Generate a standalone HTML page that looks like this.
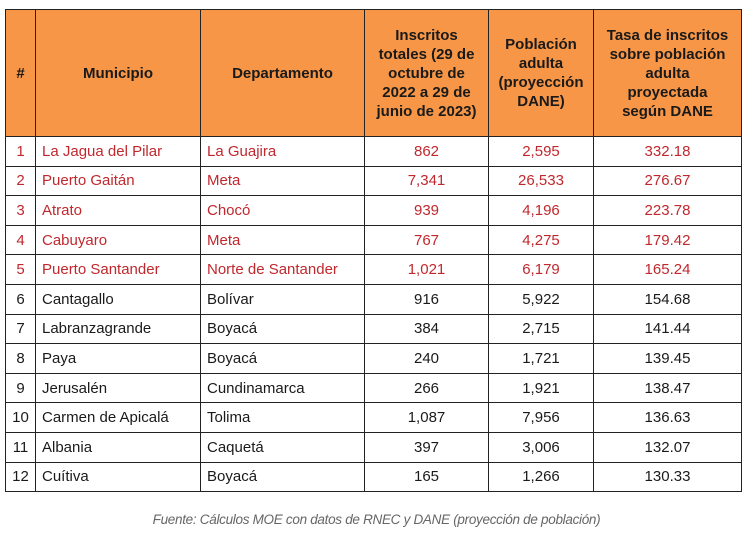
<!DOCTYPE html>
<html><head><meta charset="utf-8"><style>
body{margin:0;width:753px;height:538px;background:#fff;position:relative;overflow:hidden;font-family:"Liberation Sans",sans-serif;}
table{position:absolute;left:5px;top:9px;border-collapse:collapse;table-layout:fixed;}
td,th{border:1.5px solid #222;padding:0;font-size:15px;}
th{background:#f79646;color:#1a1a1a;font-weight:bold;height:126px;font-size:15px;line-height:19px;padding:0 6px;}
td{height:28.6px;color:#1a1a1a;}
td.c{text-align:center;}
td.l{padding-left:6px;}
tr.r td{color:#c0282e;}
.cap{position:absolute;top:512px;left:0;width:753px;text-align:center;font-style:italic;font-size:13.5px;color:#666;letter-spacing:-0.3px;}
</style></head><body>
<table>
<colgroup><col style="width:30px"><col style="width:165px"><col style="width:164px"><col style="width:124px"><col style="width:105px"><col style="width:148px"></colgroup>
<tr><th>#</th><th>Municipio</th><th>Departamento</th><th>Inscritos totales (29 de octubre de 2022 a 29 de junio de 2023)</th><th>Población adulta (proyección DANE)</th><th>Tasa de inscritos<br>sobre población<br>adulta<br>proyectada<br>según DANE</th></tr>
<tr class="r"><td class="c">1</td><td class="l">La Jagua del Pilar</td><td class="l">La Guajira</td><td class="c">862</td><td class="c">2,595</td><td class="c">332.18</td></tr>
<tr class="r"><td class="c">2</td><td class="l">Puerto Gaitán</td><td class="l">Meta</td><td class="c">7,341</td><td class="c">26,533</td><td class="c">276.67</td></tr>
<tr class="r"><td class="c">3</td><td class="l">Atrato</td><td class="l">Chocó</td><td class="c">939</td><td class="c">4,196</td><td class="c">223.78</td></tr>
<tr class="r"><td class="c">4</td><td class="l">Cabuyaro</td><td class="l">Meta</td><td class="c">767</td><td class="c">4,275</td><td class="c">179.42</td></tr>
<tr class="r"><td class="c">5</td><td class="l">Puerto Santander</td><td class="l">Norte de Santander</td><td class="c">1,021</td><td class="c">6,179</td><td class="c">165.24</td></tr>
<tr><td class="c">6</td><td class="l">Cantagallo</td><td class="l">Bolívar</td><td class="c">916</td><td class="c">5,922</td><td class="c">154.68</td></tr>
<tr><td class="c">7</td><td class="l">Labranzagrande</td><td class="l">Boyacá</td><td class="c">384</td><td class="c">2,715</td><td class="c">141.44</td></tr>
<tr><td class="c">8</td><td class="l">Paya</td><td class="l">Boyacá</td><td class="c">240</td><td class="c">1,721</td><td class="c">139.45</td></tr>
<tr><td class="c">9</td><td class="l">Jerusalén</td><td class="l">Cundinamarca</td><td class="c">266</td><td class="c">1,921</td><td class="c">138.47</td></tr>
<tr><td class="c">10</td><td class="l">Carmen de Apicalá</td><td class="l">Tolima</td><td class="c">1,087</td><td class="c">7,956</td><td class="c">136.63</td></tr>
<tr><td class="c">11</td><td class="l">Albania</td><td class="l">Caquetá</td><td class="c">397</td><td class="c">3,006</td><td class="c">132.07</td></tr>
<tr><td class="c">12</td><td class="l">Cuítiva</td><td class="l">Boyacá</td><td class="c">165</td><td class="c">1,266</td><td class="c">130.33</td></tr>
</table>
<div class="cap">Fuente: Cálculos MOE con datos de RNEC y DANE (proyección de población)</div>
</body></html>
